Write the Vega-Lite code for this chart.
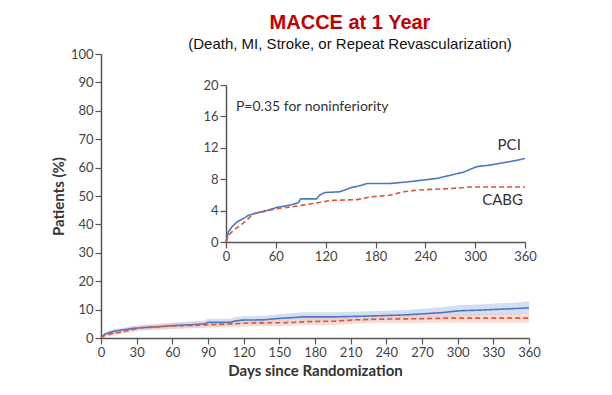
{
  "$schema": "https://vega.github.io/schema/vega-lite/v6.json",
  "autosize": "none",
  "width": 428,
  "height": 284,
  "padding": {"left": 101, "top": 54, "right": 83, "bottom": 57},
  "background": "white",
  "title": {
    "text": "MACCE at 1 Year",
    "subtitle": "(Death, MI, Stroke, or Repeat Revascularization)",
    "anchor": "middle",
    "dx": 35,
    "font": "Liberation Sans",
    "fontSize": 20,
    "fontWeight": "bold",
    "color": "#c00000",
    "subtitleFont": "Liberation Sans",
    "subtitleFontSize": 15,
    "subtitleColor": "#111111",
    "subtitlePadding": 4,
    "offset": -4
  },
  "config": {
    "view": {"stroke": null},
    "axis": {
      "labelFont": "Lato",
      "labelFontSize": 13,
      "labelColor": "#444444",
      "labelFlush": false,
      "domainColor": "#555555",
      "tickColor": "#555555",
      "domainWidth": 1.5,
      "tickWidth": 1.2,
      "tickSize": 6,
      "grid": false,
      "titleFont": "Lato",
      "titleFontSize": 15,
      "titleFontWeight": "bold",
      "titleColor": "#333333"
    }
  },
  "datasets": {
    "km": [
      {"group": "PCI", "day": 0, "pct": 0, "lo": 0, "hi": 0},
      {"group": "PCI", "day": 3, "pct": 1.3, "lo": 0.8, "hi": 1.8},
      {"group": "PCI", "day": 7, "pct": 1.9, "lo": 1.3, "hi": 2.6},
      {"group": "PCI", "day": 13, "pct": 2.55, "lo": 1.8, "hi": 3.3},
      {"group": "PCI", "day": 21, "pct": 3.0, "lo": 2.2, "hi": 3.8},
      {"group": "PCI", "day": 27, "pct": 3.4, "lo": 2.5, "hi": 4.3},
      {"group": "PCI", "day": 37, "pct": 3.7, "lo": 2.7, "hi": 4.7},
      {"group": "PCI", "day": 49, "pct": 4.0, "lo": 3.0, "hi": 5.0},
      {"group": "PCI", "day": 61, "pct": 4.4, "lo": 3.3, "hi": 5.5},
      {"group": "PCI", "day": 77, "pct": 4.7, "lo": 3.5, "hi": 5.9},
      {"group": "PCI", "day": 87, "pct": 5.0, "lo": 3.8, "hi": 6.2},
      {"group": "PCI", "day": 90, "pct": 5.5, "lo": 4.2, "hi": 6.8},
      {"group": "PCI", "day": 109, "pct": 5.5, "lo": 4.2, "hi": 6.8},
      {"group": "PCI", "day": 113, "pct": 6.0, "lo": 4.6, "hi": 7.4},
      {"group": "PCI", "day": 119, "pct": 6.3, "lo": 4.9, "hi": 7.7},
      {"group": "PCI", "day": 137, "pct": 6.4, "lo": 5.0, "hi": 7.8},
      {"group": "PCI", "day": 150, "pct": 6.9, "lo": 5.4, "hi": 8.4},
      {"group": "PCI", "day": 162, "pct": 7.2, "lo": 5.6, "hi": 8.8},
      {"group": "PCI", "day": 170, "pct": 7.45, "lo": 5.8, "hi": 9.1},
      {"group": "PCI", "day": 197, "pct": 7.45, "lo": 5.8, "hi": 9.1},
      {"group": "PCI", "day": 218, "pct": 7.65, "lo": 6.0, "hi": 9.3},
      {"group": "PCI", "day": 238, "pct": 7.9, "lo": 6.2, "hi": 9.6},
      {"group": "PCI", "day": 254, "pct": 8.1, "lo": 6.4, "hi": 9.8},
      {"group": "PCI", "day": 270, "pct": 8.5, "lo": 6.7, "hi": 10.3},
      {"group": "PCI", "day": 286, "pct": 8.9, "lo": 7.0, "hi": 10.8},
      {"group": "PCI", "day": 302, "pct": 9.6, "lo": 7.6, "hi": 11.6},
      {"group": "PCI", "day": 318, "pct": 9.8, "lo": 7.8, "hi": 11.8},
      {"group": "PCI", "day": 334, "pct": 10.1, "lo": 8.0, "hi": 12.2},
      {"group": "PCI", "day": 350, "pct": 10.4, "lo": 8.3, "hi": 12.5},
      {"group": "PCI", "day": 360, "pct": 10.65, "lo": 8.5, "hi": 12.9},
      {"group": "CABG", "day": 0, "pct": 0, "lo": 0, "hi": 0},
      {"group": "CABG", "day": 3, "pct": 0.85, "lo": 0.4, "hi": 1.3},
      {"group": "CABG", "day": 9, "pct": 1.5, "lo": 0.9, "hi": 2.1},
      {"group": "CABG", "day": 17, "pct": 2.1, "lo": 1.4, "hi": 2.8},
      {"group": "CABG", "day": 25, "pct": 2.8, "lo": 2.0, "hi": 3.6},
      {"group": "CABG", "day": 33, "pct": 3.6, "lo": 2.7, "hi": 4.5},
      {"group": "CABG", "day": 49, "pct": 3.95, "lo": 3.0, "hi": 4.9},
      {"group": "CABG", "day": 61, "pct": 4.25, "lo": 3.2, "hi": 5.3},
      {"group": "CABG", "day": 77, "pct": 4.45, "lo": 3.4, "hi": 5.5},
      {"group": "CABG", "day": 93, "pct": 4.7, "lo": 3.6, "hi": 5.8},
      {"group": "CABG", "day": 117, "pct": 5.1, "lo": 3.9, "hi": 6.3},
      {"group": "CABG", "day": 125, "pct": 5.3, "lo": 4.1, "hi": 6.5},
      {"group": "CABG", "day": 158, "pct": 5.4, "lo": 4.2, "hi": 6.6},
      {"group": "CABG", "day": 174, "pct": 5.75, "lo": 4.5, "hi": 7.0},
      {"group": "CABG", "day": 197, "pct": 5.95, "lo": 4.6, "hi": 7.3},
      {"group": "CABG", "day": 214, "pct": 6.4, "lo": 5.0, "hi": 7.8},
      {"group": "CABG", "day": 230, "pct": 6.6, "lo": 5.2, "hi": 8.0},
      {"group": "CABG", "day": 246, "pct": 6.7, "lo": 5.2, "hi": 8.2},
      {"group": "CABG", "day": 270, "pct": 6.8, "lo": 5.3, "hi": 8.3},
      {"group": "CABG", "day": 294, "pct": 7.0, "lo": 5.4, "hi": 8.6},
      {"group": "CABG", "day": 360, "pct": 7.0, "lo": 5.4, "hi": 8.6}
    ],
    "notes": [
      {"label": "P=0.35 for noninferiority", "day": 12, "pct": 17.2, "kind": "p"},
      {"label": "PCI", "day": 341, "pct": 12.4, "kind": "g"},
      {"label": "CABG", "day": 333, "pct": 5.3, "kind": "g"}
    ]
  },
  "resolve": {"scale": {"x": "independent", "y": "independent"}, "axis": {"x": "independent", "y": "independent"}},
  "layer": [
    {
      "data": {"name": "km"},
      "encoding": {
        "x": {"field": "day", "type": "quantitative", "scale": {"domain": [0, 360], "nice": false},
          "axis": {"orient": "bottom", "values": [0, 30, 60, 90, 120, 150, 180, 210, 240, 270, 300, 330, 360], "title": "Days since Randomization"}},
        "y": {"field": "pct", "type": "quantitative", "scale": {"domain": [0, 100], "nice": false},
          "axis": {"orient": "left", "values": [0, 10, 20, 30, 40, 50, 60, 70, 80, 90, 100], "title": "Patients (%)"}}
      },
      "layer": [
        {
          "transform": [{"filter": "datum.group === 'PCI'"}],
          "mark": {"type": "area", "color": "#c6d3ee", "opacity": 0.75},
          "encoding": {"y": {"field": "hi", "type": "quantitative"}, "y2": {"field": "lo"}}
        },
        {
          "transform": [{"filter": "datum.group === 'CABG'"}],
          "mark": {"type": "area", "color": "#f6cbbf", "opacity": 0.65},
          "encoding": {"y": {"field": "hi", "type": "quantitative"}, "y2": {"field": "lo"}}
        },
        {
          "mark": {"type": "line", "strokeWidth": 1.6},
          "encoding": {
            "color": {"field": "group", "type": "nominal", "scale": {"domain": ["PCI", "CABG"], "range": ["#4a78c4", "#d9553b"]}, "legend": null},
            "strokeDash": {"field": "group", "type": "nominal", "scale": {"domain": ["PCI", "CABG"], "range": [[1, 0], [5, 3]]}, "legend": null}
          }
        }
      ]
    },
    {
      "layer": [
        {
          "data": {"name": "km"},
          "mark": {"type": "line", "strokeWidth": 1.6},
          "encoding": {
            "x": {"field": "day", "type": "quantitative", "scale": {"domain": [0, 360], "nice": false, "range": [125, 424]},
              "axis": {"orient": "bottom", "offset": -96, "values": [0, 60, 120, 180, 240, 300, 360], "title": null}},
            "y": {"field": "pct", "type": "quantitative", "scale": {"domain": [0, 20], "nice": false, "range": [188, 31]},
              "axis": {"orient": "left", "offset": -125, "values": [0, 4, 8, 12, 16, 20], "title": null}},
            "color": {"field": "group", "type": "nominal", "scale": {"domain": ["PCI", "CABG"], "range": ["#4a78c4", "#d9553b"]}, "legend": null},
            "strokeDash": {"field": "group", "type": "nominal", "scale": {"domain": ["PCI", "CABG"], "range": [[1, 0], [5, 3]]}, "legend": null}
          }
        },
        {
          "data": {"name": "notes"},
          "transform": [{"filter": "datum.kind === 'p'"}],
          "mark": {"type": "text", "align": "left", "baseline": "middle", "font": "Lato", "fontSize": 14, "color": "#333333"},
          "encoding": {
            "x": {"field": "day", "type": "quantitative"},
            "y": {"field": "pct", "type": "quantitative"},
            "text": {"field": "label"}
          }
        },
        {
          "data": {"name": "notes"},
          "transform": [{"filter": "datum.kind === 'g'"}],
          "mark": {"type": "text", "align": "center", "baseline": "middle", "font": "Lato", "fontSize": 15, "color": "#333333"},
          "encoding": {
            "x": {"field": "day", "type": "quantitative"},
            "y": {"field": "pct", "type": "quantitative"},
            "text": {"field": "label"}
          }
        }
      ]
    }
  ]
}
